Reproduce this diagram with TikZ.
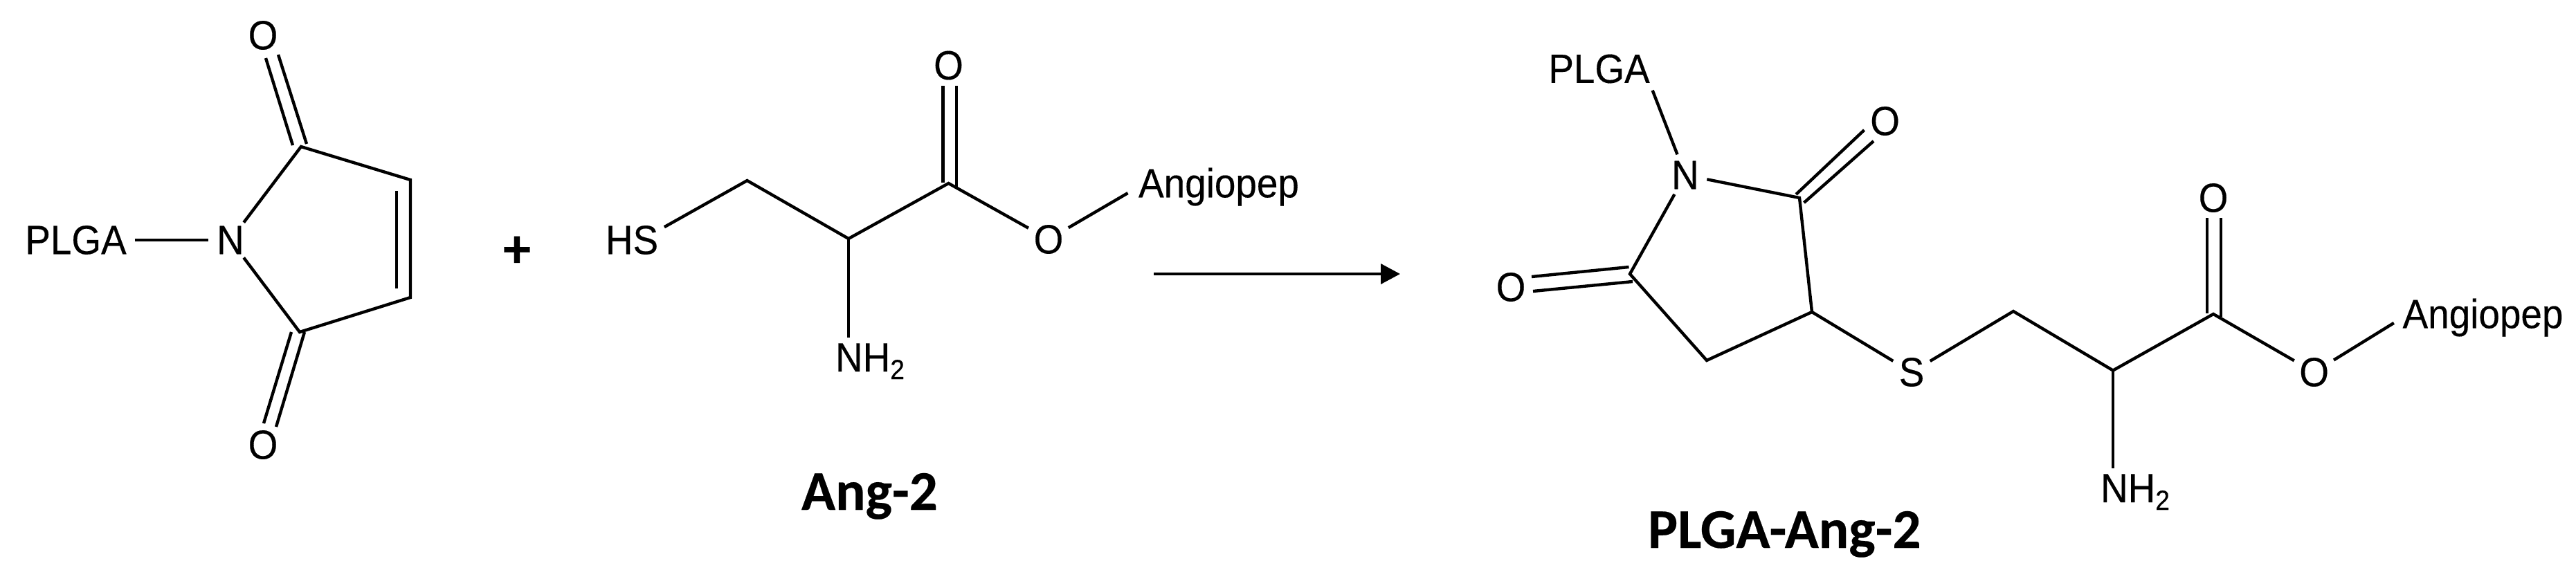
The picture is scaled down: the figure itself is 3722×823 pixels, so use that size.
\documentclass[tikz,border=0pt]{standalone}
\usepackage{fontspec}
\setmainfont[FakeStretch=0.93,FakeBold=0.25]{Liberation Sans}
\newfontfamily\capfont[FakeBold=0.3]{Carlito}
\usetikzlibrary{arrows.meta}
\tikzset{
  bond/.style={line width=4.4pt,black,line cap=butt,line join=miter},
  chem/.style={inner sep=0pt,outer sep=0pt,font=\fontsize{59}{64}\selectfont},
  atom/.style={chem,circle,inner sep=2.5pt},
  caption/.style={inner sep=0pt,outer sep=0pt,anchor=base west,font=\capfont\bfseries\fontsize{81}{90}\selectfont},
  plus/.style={inner sep=0pt,outer sep=0pt,font=\capfont\bfseries\fontsize{80}{90}\selectfont},
  rxn/.style={line width=3.8pt,-{Triangle[length=28pt,width=29pt]}}
}
\newcommand{\subtwo}{\raisebox{-11pt}{\fontsize{40}{44}\selectfont 2}}
\begin{document}
\begin{tikzpicture}[x=1pt,y=-1pt]
\useasboundingbox (0,0) rectangle (3722,823);
% --- maleimide
\node[chem] (plgaA) at (109.5,347) {PLGA};
\node[atom] (nA) at (333,347) {N};
\node[atom] (oA1) at (380,51) {O};
\node[atom] (oA2) at (380,643) {O};
\coordinate (cA1) at (435,212);
\coordinate (cA2) at (593,260);
\coordinate (cA3) at (593,430);
\coordinate (cA4) at (433,480);
\coordinate (dA1a) at (384,84);
\coordinate (dA1b) at (423,210);
\coordinate (dA2a) at (402,79);
\coordinate (dA2b) at (443,208);
\coordinate (dA3a) at (381,612);
\coordinate (dA3b) at (421,480);
\coordinate (dA4a) at (399,617);
\coordinate (dA4b) at (440,480);
\coordinate (dA5a) at (573,276);
\coordinate (dA5b) at (573,417);
\draw[bond,shorten <=12pt] (plgaA.east) -- (nA);
\draw[bond] (nA) -- (cA1) -- (cA2) -- (cA3) -- (cA4) -- (nA);
\draw[bond] (dA1a) -- (dA1b);
\draw[bond] (dA2a) -- (dA2b);
\draw[bond] (dA3a) -- (dA3b);
\draw[bond] (dA4a) -- (dA4b);
\draw[bond] (dA5a) -- (dA5b);
\node[plus] (plusS) at (747,364) {+};
% --- Ang-2
\node[chem] (hs) at (913,347) {HS};
\coordinate (cB1) at (1079.5,261);
\coordinate (cB2) at (1226,345);
\coordinate (cB3) at (1370.5,265);
\node[chem,anchor=base west] (nhB) at (1207,537) {NH\subtwo};
\node[atom] (oB1) at (1370.5,94.5) {O};
\node[atom] (oB2) at (1515,346) {O};
\node[chem] (angB) at (1761,270) {Angiopep};
\coordinate (dB1a) at (1362.6,124);
\coordinate (dB1b) at (1362.6,264);
\coordinate (dB2a) at (1382,124);
\coordinate (dB2b) at (1382,270);
\draw[bond,shorten <=10pt] (hs.20) -- (cB1) -- (cB2) -- (cB3) -- (oB2);
\draw[bond,shorten >=8pt] (cB2) -- (nhB.north -| cB2);
\draw[bond] (dB1a) -- (dB1b);
\draw[bond] (dB2a) -- (dB2b);
\draw[bond,shorten >=18pt] (oB2) -- (angB.west);
\node[caption] (capB) at (1158,737) {Ang-2};
% --- arrow
\coordinate (arS) at (1667,396);
\coordinate (arE) at (2023,396);
\draw[rxn] (arS) -- (arE);
% --- product
\node[chem] (plgaC) at (2310.5,99.5) {PLGA};
\node[atom] (nC) at (2435,253) {N};
\node[atom] (oC1) at (2183,415) {O};
\node[atom] (oC2) at (2723.6,175) {O};
\node[atom] (sC) at (2762,538) {S};
\node[atom] (oC3) at (3198,286) {O};
\node[atom] (oC4) at (3343.6,538) {O};
\node[chem] (angC) at (3587.5,459) {Angiopep};
\node[chem,anchor=base west] (nhC) at (3035,726) {NH\subtwo};
\coordinate (cC1) at (2355,396);
\coordinate (cC2) at (2466,521);
\coordinate (cC3) at (2618,451);
\coordinate (cC4) at (2600,286);
\coordinate (cC5) at (2909,450);
\coordinate (cC6) at (3053,535.5);
\coordinate (cC7) at (3198,454);
\coordinate (dC1a) at (2213,400);
\coordinate (dC1b) at (2353.5,386);
\coordinate (dC2a) at (2215,421);
\coordinate (dC2b) at (2359,407);
\coordinate (dC3a) at (2595,281);
\coordinate (dC3b) at (2693.5,188);
\coordinate (dC4a) at (2606.5,293);
\coordinate (dC4b) at (2707,204);
\coordinate (dC5a) at (3189,315);
\coordinate (dC5b) at (3189,453);
\coordinate (dC6a) at (3209,315);
\coordinate (dC6b) at (3209,458);
\draw[bond,shorten <=11pt] (plgaC.south east) -- (nC);
\draw[bond] (nC) -- (cC1) -- (cC2) -- (cC3) -- (cC4) -- (nC);
\draw[bond] (cC3) -- (sC) -- (cC5) -- (cC6) -- (cC7) -- (oC4);
\draw[bond,shorten >=8pt] (cC6) -- (nhC.north -| cC6);
\draw[bond,shorten >=15pt] (oC4) -- (angC.west);
\draw[bond] (dC1a) -- (dC1b);
\draw[bond] (dC2a) -- (dC2b);
\draw[bond] (dC3a) -- (dC3b);
\draw[bond] (dC4a) -- (dC4b);
\draw[bond] (dC5a) -- (dC5b);
\draw[bond] (dC6a) -- (dC6b);
\node[caption] (capC) at (2381,792) {PLGA-Ang-2};
\end{tikzpicture}
\end{document}
